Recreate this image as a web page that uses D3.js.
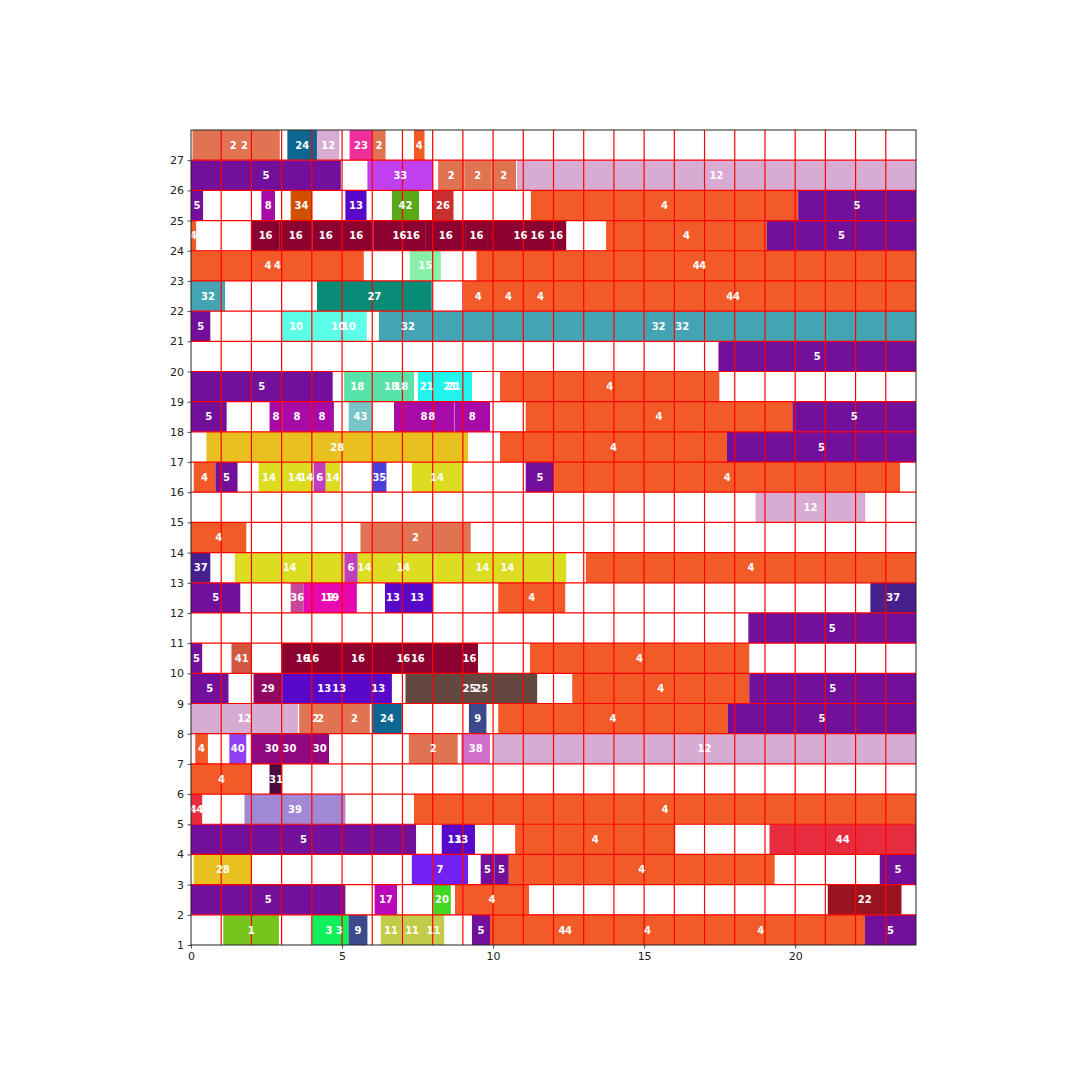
<!DOCTYPE html>
<html>
<head>
<meta charset="utf-8">
<script src="https://cdn.jsdelivr.net/npm/d3@7"></script>
<style>
  body { margin: 0; background: #fff; }
  svg text { font-family: "DejaVu Sans", sans-serif; }
</style>
</head>
<body>
<div class="js-chart"></div>
<script>
// job colours, index = job number
const jobColors = [
  null, "#78c41e", "#e07452", "#10f05a", "#f25a28", "#720f9b", "#bf3fbf", "#7320f5",
  "#a80aa8", "#3a4a8a", "#5effe8", "#c3cc4a", "#d8acd2", "#5808c8", "#dcdc20",
  "#88f0a8", "#8c0030", "#b808b8", "#58e4a8", "#e808b0", "#40d820", "#20f4ec",
  "#981420", "#f0309a", "#0c6690", "#644840", "#c83030", "#088c78", "#e8c020",
  "#900860", "#900880", "#4a0a40", "#44a4b4", "#c040f0", "#d05000", "#4840d8",
  "#c84898", "#46208c", "#d070c8", "#a088d4", "#9040f0", "#d05840", "#58a818",
  "#78c4c8", "#e82c40"
];

// [start, end, job] per row
const row27 = [[0.05, 2.75, 2], [0.6, 2.94, 2], [3.19, 4.17, 24], [4.17, 4.91, 12], [5.25, 6.0, 23], [6.0, 6.44, 2], [7.38, 7.73, 4]];
const row26 = [[0, 4.96, 5], [5.84, 8.02, 33], [8.18, 9.05, 2], [9.05, 9.94, 2], [9.94, 10.76, 2], [10.79, 24, 12]];
const row25 = [[0, 0.4, 5], [2.33, 2.78, 8], [3.3, 4.01, 34], [5.11, 5.81, 13], [6.65, 7.55, 42], [7.99, 8.69, 26], [11.25, 20.1, 4], [20.1, 24, 5]];
const row24 = [[0, 0.17, 4], [2.02, 2.92, 16], [2.92, 4.02, 16], [4.02, 4.9, 16], [4.9, 6.04, 16], [6.04, 7.76, 16], [6.94, 7.76, 16], [7.76, 9.1, 16], [9.1, 9.8, 16], [9.8, 12.02, 16], [10.92, 12.02, 16], [11.76, 12.42, 16], [13.74, 19.06, 4], [19.06, 24, 5]];
const row23 = [[0, 5.1, 4], [0, 5.72, 4], [7.24, 8.27, 15], [9.45, 24, 4], [9.88, 24, 4]];
const row22 = [[0, 1.13, 32], [4.17, 7.97, 27], [9.02, 10.0, 4], [10.0, 11.02, 4], [11.02, 12.12, 4], [11.66, 24, 4], [12.12, 24, 4]];
const row21 = [[0, 0.64, 5], [3.02, 3.94, 10], [3.94, 5.81, 10], [4.63, 5.81, 10], [6.22, 8.14, 32], [8.14, 22.82, 32], [8.52, 24, 32]];
const row20 = [[17.46, 24, 5]];
const row19 = [[0, 4.69, 5], [5.07, 5.93, 18], [5.86, 7.38, 18], [6.54, 7.38, 18], [7.51, 8.09, 21], [7.86, 9.3, 21], [8.08, 9.3, 21], [10.23, 17.49, 4]];
const row18 = [[0, 1.18, 5], [2.6, 3.02, 8], [3.02, 4.0, 8], [3.95, 4.73, 8], [5.22, 6.0, 43], [6.72, 8.7, 8], [7.24, 8.7, 8], [8.72, 9.9, 8], [11.08, 19.91, 4], [19.91, 24, 5]];
const row17 = [[0.51, 9.17, 28], [10.23, 17.74, 4], [17.74, 24, 5]];
const row16 = [[0.09, 0.81, 4], [0.81, 1.54, 5], [2.24, 2.92, 14], [2.86, 4.02, 14], [3.61, 4.03, 14], [4.06, 4.46, 6], [4.46, 4.93, 14], [6.0, 6.47, 35], [7.31, 8.97, 14], [11.08, 12.03, 5], [12.03, 23.47, 4]];
const row15 = [[18.69, 22.32, 12]];
const row14 = [[0, 1.83, 4], [5.61, 9.26, 2]];
const row13 = [[0, 0.64, 37], [1.45, 5.08, 14], [5.08, 5.52, 6], [5.52, 5.96, 14], [5.96, 8.1, 14], [8.1, 11.2, 14], [8.54, 12.42, 14], [13.07, 24, 4]];
const row12 = [[0, 1.63, 5], [3.3, 3.73, 36], [3.73, 5.31, 19], [3.87, 5.49, 19], [6.42, 6.95, 13], [6.95, 8.02, 13], [10.17, 12.39, 4], [22.49, 24, 37]];
const row11 = [[18.45, 24, 5]];
const row10 = [[0, 0.37, 5], [1.34, 2.02, 41], [3.02, 4.38, 16], [3.02, 5.0, 16], [5.0, 6.06, 16], [5.52, 9.5, 16], [6.06, 8.0, 16], [8.94, 9.5, 16], [11.22, 18.48, 4]];
const row09 = [[0, 1.24, 5], [2.07, 3.02, 29], [3.02, 5.8, 13], [4.02, 5.8, 13], [5.75, 6.65, 13], [7.1, 11.34, 25], [7.76, 11.46, 25], [12.62, 18.48, 4], [18.48, 24, 5]];
const row08 = [[0, 3.54, 12], [3.59, 4.67, 2], [3.59, 4.99, 2], [4.9, 5.92, 2], [6.0, 6.98, 24], [9.2, 9.78, 9], [10.17, 17.77, 4], [17.77, 24, 5]];
const row07 = [[0.14, 0.56, 4], [1.27, 1.83, 40], [2.02, 3.32, 30], [2.02, 4.5, 30], [3.95, 4.57, 30], [7.21, 8.83, 2], [8.95, 9.9, 38], [10.0, 24, 12]];
const row06 = [[0, 2.02, 4], [2.6, 3.02, 31]];
const row05 = [[0, 0.37, 44], [1.77, 5.11, 39], [7.38, 24, 4]];
const row04 = [[0, 7.45, 5], [8.3, 9.14, 13], [8.5, 9.4, 13], [10.73, 16.03, 4], [19.15, 24, 44]];
const row03 = [[0.09, 2.02, 28], [7.31, 9.17, 7], [9.59, 10.04, 5], [10.04, 10.52, 5], [10.52, 19.32, 4], [22.8, 24, 5]];
const row02 = [[0, 5.11, 5], [6.08, 6.82, 17], [8.02, 8.6, 20], [8.74, 11.19, 4], [21.08, 23.52, 22]];
const row01 = [[1.07, 2.91, 1], [4.01, 5.13, 3], [4.6, 5.22, 3], [5.22, 5.84, 9], [6.28, 6.96, 11], [6.96, 7.68, 11], [7.68, 8.38, 11], [9.3, 9.9, 5], [9.9, 14.66, 4], [9.9, 15.1, 4], [9.9, 20.32, 4], [15.41, 22.31, 4], [22.31, 24, 5]];

const rows = [row01, row02, row03, row04, row05, row06, row07, row08, row09, row10,
  row11, row12, row13, row14, row15, row16, row17, row18, row19, row20,
  row21, row22, row23, row24, row25, row26, row27];

const xTicks = [0, 5, 10, 15, 20];
const yTicks = d3.range(1, 28);
const xGrid = d3.range(1, 24);
const yGrid = d3.range(2, 28);

const margin = { top: 130, right: 164, bottom: 135, left: 191 };
const width = 1080;
const height = 1080;
const w = width - margin.left - margin.right;
const h = height - margin.top - margin.bottom;

const x = d3.scaleLinear().domain([0, 24]).range([0, w]);
const y = d3.scaleLinear().domain([1, 28]).range([h, 0]);

const svg = d3
  .select(".js-chart")
  .append("svg")
  .attr("width", width)
  .attr("height", height);

const g = svg.append("g").attr("transform", `translate(${margin.left}, ${margin.top})`);

const segments = rows.flatMap((r, i) =>
  r.map(([s, e, job]) => ({ row: i + 1, s, e, job }))
);

g.selectAll("rect.bar")
  .data(segments)
  .enter()
  .append("rect")
  .attr("class", "bar")
  .attr("x", (d) => x(d.s))
  .attr("y", (d) => y(d.row + 1))
  .attr("width", (d) => x(d.e) - x(d.s))
  .attr("height", (d) => y(d.row) - y(d.row + 1))
  .attr("fill", (d) => jobColors[d.job]);

// red grid on top of the bars
g.append("g")
  .selectAll("line")
  .data(xGrid)
  .enter()
  .append("line")
  .attr("x1", (d) => x(d))
  .attr("x2", (d) => x(d))
  .attr("y1", 0)
  .attr("y2", h)
  .attr("stroke", "#ff0000")
  .attr("stroke-width", 1.2);

g.append("g")
  .selectAll("line")
  .data(yGrid)
  .enter()
  .append("line")
  .attr("x1", 0)
  .attr("x2", w)
  .attr("y1", (d) => y(d))
  .attr("y2", (d) => y(d))
  .attr("stroke", "#ff0000")
  .attr("stroke-width", 1.2);

g.selectAll("text.lbl")
  .data(segments)
  .enter()
  .append("text")
  .attr("class", "lbl")
  .attr("x", (d) => x((d.s + d.e) / 2))
  .attr("y", (d) => y(d.row + 0.5))
  .attr("dy", "0.36em")
  .attr("text-anchor", "middle")
  .attr("fill", "#fff")
  .attr("font-weight", "bold")
  .attr("font-size", 10)
  .text((d) => d.job);

// axes
const xAxis = g
  .append("g")
  .attr("transform", `translate(0, ${h})`)
  .call(d3.axisBottom(x).tickValues(xTicks).tickSize(3.5).tickPadding(3.5));

const yAxis = g
  .append("g")
  .call(d3.axisLeft(y).tickValues(yTicks).tickSize(3.5).tickPadding(3.5));

[xAxis, yAxis].forEach((a) => {
  a.select(".domain").remove();
  a.selectAll("text").attr("font-size", 11).attr("fill", "#222").style("font-family", "DejaVu Sans");
  a.selectAll("line").attr("stroke", "#222").attr("stroke-width", 0.8);
});

g.append("rect")
  .attr("width", w)
  .attr("height", h)
  .attr("fill", "none")
  .attr("stroke", "#222")
  .attr("stroke-width", 1);
</script>
</body>
</html>
